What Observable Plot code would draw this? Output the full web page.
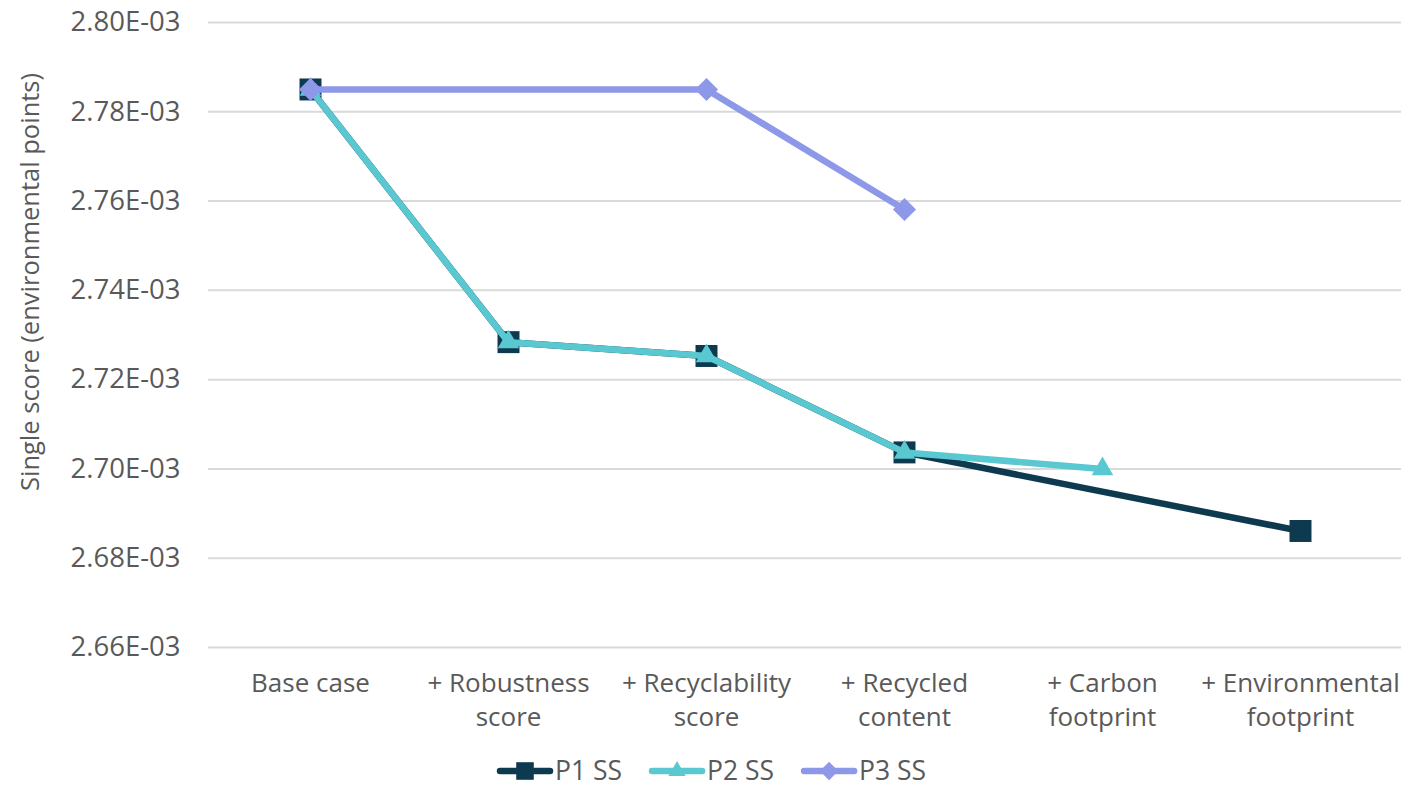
<!DOCTYPE html>
<html><head><meta charset="utf-8">
<script src="https://cdn.jsdelivr.net/npm/d3@7"></script>
<script src="https://cdn.jsdelivr.net/npm/@observablehq/plot@0.6"></script>
<style>
body{margin:0;background:#fff;font-family:"Open Sans",sans-serif;color:#595959;}
#legend svg{display:block;}
</style></head><body>
<div id="chart"></div>
<div id="legend"></div>
<script>
const categories = ["Base case", "+ Robustness score", "+ Recyclability score", "+ Recycled content", "+ Carbon footprint", "+ Environmental footprint"];
const tickLabels = ["Base case", "+ Robustness\nscore", "+ Recyclability\nscore", "+ Recycled\ncontent", "+ Carbon\nfootprint", "+ Environmental\nfootprint"];
const p1 = [0.002785, 0.0027284, 0.0027253, 0.0027037, null, 0.0026861];
const p2 = [0.002785, 0.0027284, 0.0027253, 0.0027037, 0.0027, null];
const p3 = [0.002785, null, 0.002785, 0.0027581, null, null];
const yTicks = [0.00266, 0.00268, 0.0027, 0.00272, 0.00274, 0.00276, 0.00278, 0.0028];
const yTitle = "Single score (environmental points)";
const seriesNames = ["P1 SS", "P2 SS", "P3 SS"];
const seriesColors = ["#0e3a4f", "#5ac8d1", "#8e98e8"];
const seriesSymbols = ["square", "triangle", "diamond2"];
const seriesRadius = [12.4, 8, 10.4];
const seriesValues = [p1, p2, p3];

const rows = seriesNames.map((name, s) =>
  categories.map((c, i) => ({series: name, cat: c, value: seriesValues[s][i]}))
    .filter(d => d.value != null));

const seriesMarks = rows.flatMap((data, s) => [
  Plot.line(data, {x: "cat", y: "value", stroke: seriesColors[s], strokeWidth: 6.5, strokeLinejoin: "round", strokeLinecap: "round"}),
  Plot.dot(data, {x: "cat", y: "value", fill: seriesColors[s], symbol: seriesSymbols[s], r: seriesRadius[s], stroke: "none"})
]);

const chart = Plot.plot({
  width: 1407,
  height: 750,
  marginLeft: 208,
  marginRight: 6,
  marginTop: 22,
  marginBottom: 103,
  style: {fontFamily: "'Open Sans', sans-serif", background: "#fff"},
  x: {type: "point", domain: categories, padding: 0.5},
  y: {domain: [yTicks[0], yTicks[yTicks.length - 1]]},
  marks: [
    Plot.gridY({ticks: yTicks, stroke: "#d9d9d9", strokeOpacity: 1, strokeWidth: 2}),
    Plot.axisY({ticks: yTicks, tickSize: 0, tickPadding: 28, fontSize: 27.5, color: "#595959", label: null,
      tickFormat: d => (d * 1000).toFixed(2) + "E-03"}),
    Plot.axisX({tickSize: 0, tickPadding: 20, fontSize: 26, lineHeight: 1.32, color: "#595959", label: null,
      tickFormat: d => tickLabels[categories.indexOf(d)]}),
    Plot.text([yTitle], {frameAnchor: "left", textAnchor: "middle", rotate: -90, dx: -178, dy: -53, fontSize: 25.5, fill: "#595959"}),
    ...seriesMarks
  ]
});
document.getElementById("chart").appendChild(chart);

// Legend (below the chart)
const symbolMap = {square: d3.symbolSquare, triangle: d3.symbolTriangle, diamond2: d3.symbolDiamond2};
const lsvg = d3.select("#legend").append("svg").attr("width", 1407).attr("height", 39)
  .style("font-family", "'Open Sans', sans-serif");
let lx = 497;
seriesNames.forEach((name, s) => {
  const g = lsvg.append("g").attr("transform", `translate(${lx},21)`);
  g.append("line").attr("x1", 3).attr("x2", 53).attr("y1", 0).attr("y2", 0)
    .attr("stroke", seriesColors[s]).attr("stroke-width", 6.5).attr("stroke-linecap", "round");
  g.append("path").attr("transform", "translate(28,0)")
    .attr("d", d3.symbol(symbolMap[seriesSymbols[s]], Math.PI * (seriesRadius[s] * 0.8) ** 2)())
    .attr("fill", seriesColors[s]);
  const t = g.append("text").attr("x", 58).attr("y", 0).attr("dy", "0.35em")
    .attr("font-size", 26.5).attr("fill", "#595959").text(name);
  lx += 58 + t.node().getComputedTextLength() + 27;
});
</script>
</body></html>
